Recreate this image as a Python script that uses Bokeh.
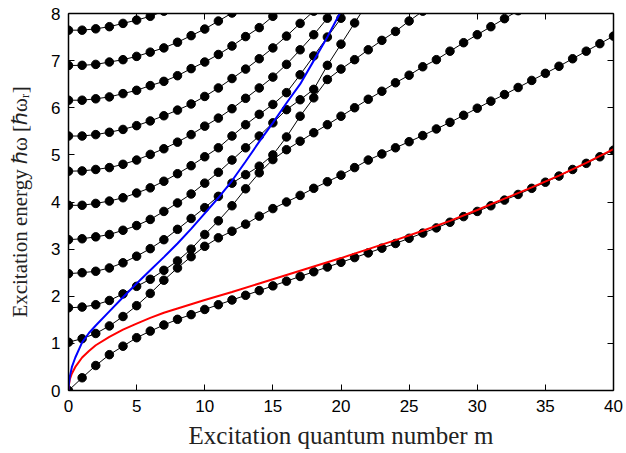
from bokeh.plotting import figure
from bokeh.models import LinearAxis, Range1d, FixedTicker
from bokeh.embed import file_html
from bokeh.resources import INLINE

# ---- data ----
branch_0 = [0.00, 0.27, 0.53, 0.76, 0.94, 1.12, 1.26, 1.39, 1.51, 1.61, 1.72, 1.82, 1.92, 2.02, 2.12,
            2.22, 2.32, 2.42, 2.52, 2.62, 2.72, 2.82, 2.92, 3.02, 3.12, 3.23, 3.34, 3.45, 3.57, 3.69,
            3.80, 3.92, 4.04, 4.16, 4.29, 4.42, 4.55, 4.69, 4.82, 4.96, 5.10]
branch_1 = [1.025, 1.10, 1.21, 1.37, 1.57, 1.80, 2.06, 2.34, 2.60, 2.84, 3.06, 3.24, 3.38, 3.53, 3.70,
            3.86, 4.00, 4.14, 4.29, 4.43, 4.57, 4.73, 4.89, 5.02, 5.15, 5.28, 5.41, 5.55, 5.69, 5.84,
            5.99, 6.14, 6.28, 6.43, 6.58, 6.73, 6.88, 7.04, 7.20, 7.36, 7.52]
branch_2 = [1.755, 1.77, 1.82, 1.91, 2.05, 2.21, 2.36, 2.55, 2.75, 3.00, 3.31, 3.60, 3.92, 4.28, 4.62,
            4.90, 5.11, 5.29, 5.47, 5.64, 5.82, 6.00, 6.18, 6.35, 6.53, 6.69, 6.87, 7.02, 7.20, 7.38,
            7.55, 7.72, 7.89, 8.06]
branch_3 = [2.48, 2.50, 2.53, 2.60, 2.71, 2.85, 3.01, 3.20, 3.42, 3.65, 3.88, 4.12, 4.40, 4.58, 4.76,
            5.00, 5.38, 5.82, 6.21, 6.60, 6.82, 7.02, 7.23, 7.43, 7.62, 7.84, 8.05]
branch_4 = [3.20, 3.22, 3.26, 3.31, 3.40, 3.50, 3.63, 3.80, 3.98, 4.17, 4.40, 4.63, 4.89, 5.15, 5.40,
            5.68, 5.96, 6.17, 6.39, 6.90, 7.35, 7.80, 8.25]
branch_5 = [3.93, 3.93, 3.97, 4.02, 4.09, 4.19, 4.30, 4.44, 4.60, 4.77, 4.96, 5.15, 5.40, 5.64, 5.86,
            6.07, 6.32, 6.70, 7.10, 7.50, 7.90, 8.30]
branch_6 = [4.654, 4.66, 4.69, 4.73, 4.80, 4.89, 5.01, 5.13, 5.27, 5.43, 5.61, 5.78, 5.98, 6.20, 6.42,
            6.65, 6.92, 7.23, 7.55, 7.90, 8.30]
branch_7 = [5.40, 5.40, 5.43, 5.48, 5.54, 5.62, 5.72, 5.83, 5.95, 6.08, 6.24, 6.42, 6.62, 6.82, 7.04,
            7.27, 7.52, 7.79, 8.05]
branch_8 = [6.16, 6.16, 6.19, 6.23, 6.30, 6.37, 6.47, 6.56, 6.68, 6.83, 6.97, 7.13, 7.31, 7.51, 7.70,
            7.94, 8.18]
branch_9 = [6.897, 6.90, 6.92, 6.97, 7.02, 7.09, 7.18, 7.27, 7.39, 7.53, 7.67, 7.84, 8.01]
branch_10 = [7.646, 7.646, 7.675, 7.72, 7.79, 7.86, 7.94, 8.05]

red_m = [0, 0.02, 0.1, 0.25, 0.5, 1, 1.5, 2, 3, 4, 5, 6, 7, 8, 9, 10, 12, 14, 16, 18, 20, 22, 24,
         26, 28, 30, 32, 34, 36, 38, 40]
red_e = [0, 0.10, 0.24, 0.36, 0.50, 0.70, 0.84, 0.96, 1.14, 1.29, 1.42, 1.54, 1.65, 1.74, 1.83, 1.92,
         2.09, 2.27, 2.45, 2.63, 2.81, 3.00, 3.19, 3.39, 3.60, 3.83, 4.07, 4.31, 4.56, 4.83, 5.12]

blue_m = [0, 0.02, 0.1, 0.25, 0.5, 1, 1.5, 2, 3, 4, 5, 6, 7, 8, 9, 10, 11, 12, 13, 14, 15, 16, 17,
          18, 19, 20]
blue_e = [0, 0.12, 0.30, 0.50, 0.70, 1.02, 1.22, 1.38, 1.68, 1.98, 2.27, 2.55, 2.83, 3.12, 3.43, 3.76,
          4.09, 4.45, 4.86, 5.28, 5.68, 6.10, 6.50, 7.00, 7.50, 8.05]

x_ticks = [0, 5, 10, 15, 20, 25, 30, 35, 40]
y_ticks = [0, 1, 2, 3, 4, 5, 6, 7, 8]

branches = [branch_0, branch_1, branch_2, branch_3, branch_4, branch_5,
            branch_6, branch_7, branch_8, branch_9, branch_10]

p = figure(frame_width=545, frame_height=377,
           x_range=Range1d(0, 40), y_range=Range1d(0, 8),
           output_backend="svg", toolbar_location=None,
           min_border_left=68, min_border_right=10, min_border_top=13, min_border_bottom=40,
           x_axis_label="Excitation quantum number m",
           y_axis_label="Excitation energy ℏω [ℏωᵣ]")
p.outline_line_color = None
p.grid.visible = False
p.background_fill_color = "white"
p.border_fill_color = "white"

for b in branches:
    ms = list(range(len(b)))
    p.line(ms, b, line_color="black", line_width=1)
for b in branches:
    ms = list(range(len(b)))
    p.scatter(ms, b, size=8.5, fill_color="black", line_color="black")

p.line(red_m, red_e, line_color="#ff0000", line_width=2)
p.line(blue_m, blue_e, line_color="#0000ff", line_width=2)

for ax in (p.xaxis[0], p.yaxis[0]):
    ax.major_tick_in = 6
    ax.major_tick_out = 0
    ax.minor_tick_in = 0
    ax.minor_tick_out = 0
    ax.axis_line_color = "black"
    ax.axis_line_width = 1.5
    ax.major_tick_line_color = "black"
    ax.major_label_text_font = "Liberation Sans"
    ax.major_label_text_font_size = "17px"
    ax.major_label_text_color = "black"
    ax.axis_label_text_font = "Liberation Serif"
    ax.axis_label_text_font_style = "normal"
    ax.axis_label_text_color = "#222222"

p.xaxis[0].axis_label_text_font_size = "25px"
p.yaxis[0].axis_label_text_font_size = "21px"
p.xaxis[0].ticker = FixedTicker(ticks=x_ticks)
p.yaxis[0].ticker = FixedTicker(ticks=y_ticks)
p.xaxis[0].major_label_standoff = 9
p.yaxis[0].major_label_standoff = 8
p.xaxis[0].axis_label_standoff = 7
p.yaxis[0].axis_label_standoff = 16

top = LinearAxis(ticker=FixedTicker(ticks=x_ticks))
right = LinearAxis(ticker=FixedTicker(ticks=y_ticks))
for ax in (top, right):
    ax.major_tick_in = 6
    ax.major_tick_out = 0
    ax.minor_tick_in = 0
    ax.minor_tick_out = 0
    ax.major_label_text_font_size = "1px"
    ax.major_label_text_color = None
    ax.major_label_standoff = 0
    ax.axis_line_color = "black"
    ax.axis_line_width = 1.5
p.add_layout(top, "above")
p.add_layout(right, "right")

open("out.html", "w").write(file_html(p, INLINE))
